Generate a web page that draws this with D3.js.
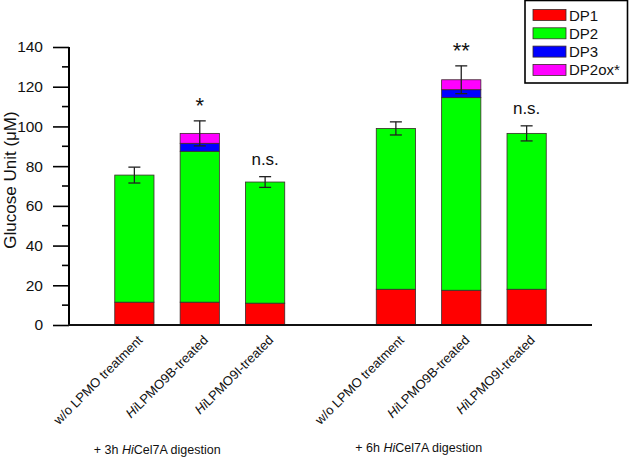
<!DOCTYPE html>
<html>
<head>
<meta charset="utf-8">
<script src="https://cdn.jsdelivr.net/npm/d3@7"></script>
<style>
  body { margin: 0; background: #fff; }
  svg { display: block; font-family: "Liberation Sans", Arial, sans-serif; }
</style>
</head>
<body>
<svg id="chart" width="629" height="458"></svg>
<script>
// slot keys: one empty slot separates the 3h and 6h groups
const slots = ['3h-wo', '3h-9B', '3h-9I', 'gap', '6h-wo', '6h-9B', '6h-9I'];
const bars = ['3h-wo', '3h-9B', '3h-9I', '6h-wo', '6h-9B', '6h-9I'];
const dp1   = [11.5, 11.5, 11.0, 18.0, 17.5, 18.0];
const dp2   = [64.0, 76.0, 61.0, 81.0, 97.0, 78.5];
const dp3   = [0, 4.0, 0, 0, 4.0, 0];
const dp2ox = [0, 5.0, 0, 0, 5.0, 0];
const errs  = [4.0, 6.3, 2.7, 3.3, 7.0, 3.8];
const signif = ['', '*', 'n.s.', '', '**', 'n.s.'];
const barLabels = [
  [['w/o LPMO treatment', false]],
  [['Hi', true], ['LPMO9B-treated', false]],
  [['Hi', true], ['LPMO9I-treated', false]],
  [['w/o LPMO treatment', false]],
  [['Hi', true], ['LPMO9B-treated', false]],
  [['Hi', true], ['LPMO9I-treated', false]]
];
const groupLabels = [
  { first: '3h-wo', parts: [['+ 3h ', false], ['Hi', true], ['Cel7A digestion', false]] },
  { first: '6h-wo', parts: [['+ 6h ', false], ['Hi', true], ['Cel7A digestion', false]] }
];
const seriesNames = ['DP1', 'DP2', 'DP3', 'DP2ox*'];
const seriesColors = ['#ff0000', '#00ff00', '#0000ff', '#ff00ff'];
const yTicks = [0, 20, 40, 60, 80, 100, 120, 140];

const svg = d3.select('#chart');

const x = d3.scaleBand().domain(slots).range([69, 592])
  .paddingInner(0.4).paddingOuter(0.7);
const y = d3.scaleLinear().domain([0, 140]).range([325, 47]);

// stacked data
const rows = bars.map((k, i) => ({ key: k, DP1: dp1[i], DP2: dp2[i], DP3: dp3[i], 'DP2ox*': dp2ox[i] }));
const stacked = d3.stack().keys(seriesNames)(rows);

svg.append('g').selectAll('g').data(stacked).join('g')
  .attr('fill', (d, i) => seriesColors[i])
  .selectAll('rect').data(d => d.filter(s => s[1] - s[0] > 0)).join('rect')
  .attr('x', d => x(d.data.key))
  .attr('width', x.bandwidth())
  .attr('y', d => y(d[1]))
  .attr('height', d => y(d[0]) - y(d[1]))
  .attr('stroke', '#3a2a2a')
  .attr('stroke-width', 0.8);

// error bars
const totals = rows.map((r, i) => dp1[i] + dp2[i] + dp3[i] + dp2ox[i]);
const eb = svg.append('g').attr('stroke', '#222').attr('stroke-width', 1.3);
bars.forEach((k, i) => {
  const cx = x(k) + x.bandwidth() / 2;
  const t = y(totals[i] + errs[i]), b = y(totals[i] - errs[i]);
  eb.append('line').attr('x1', cx).attr('x2', cx).attr('y1', t).attr('y2', b);
  eb.append('line').attr('x1', cx - 6).attr('x2', cx + 6).attr('y1', t).attr('y2', t);
  eb.append('line').attr('x1', cx - 6).attr('x2', cx + 6).attr('y1', b).attr('y2', b);
  if (signif[i]) {
    const star = signif[i] !== 'n.s.';
    svg.append('text')
      .attr('x', cx).attr('y', star ? t - 8 : t - 12)
      .attr('text-anchor', 'middle')
      .attr('font-size', star ? 22 : 17)
      .attr('fill', '#111')
      .text(signif[i]);
  }
});

// y axis
const yAxis = svg.append('g').attr('transform', 'translate(69,0)')
  .call(d3.axisLeft(y).tickValues(yTicks).tickSize(16).tickPadding(10));
yAxis.select('.domain').attr('stroke-width', 2).attr('d', 'M0,325V47');
yAxis.selectAll('.tick line').attr('stroke-width', 1.6);
yAxis.selectAll('.tick text').attr('font-size', 15.5).attr('fill', '#111')
  .attr('font-family', '"Liberation Sans", Arial, sans-serif');
const minor = d3.range(10, 140, 20);
svg.append('g').selectAll('line').data(minor).join('line')
  .attr('x1', 62).attr('x2', 69)
  .attr('y1', d => y(d)).attr('y2', d => y(d))
  .attr('stroke', '#000').attr('stroke-width', 1.6);

// x axis line
svg.append('line').attr('x1', 68).attr('x2', 592).attr('y1', 325).attr('y2', 325)
  .attr('stroke', '#111').attr('stroke-width', 2);

// y title
svg.append('text')
  .attr('transform', 'translate(16,180) rotate(-90)')
  .attr('text-anchor', 'middle')
  .attr('font-size', 17)
  .attr('fill', '#111')
  .text('Glucose Unit (\u03bcM)');

// bar labels, rotated
bars.forEach((k, i) => {
  const cx = x(k) + x.bandwidth() / 2;
  const t = svg.append('text')
    .attr('transform', `translate(${cx + 9},${341}) rotate(-45)`)
    .attr('text-anchor', 'end')
    .attr('font-size', 13)
    .attr('fill', '#111');
  barLabels[i].forEach(([s, it]) => t.append('tspan').attr('font-style', it ? 'italic' : null).text(s));
});

// group labels
groupLabels.forEach((g, i) => {
  const t = svg.append('text')
    .attr('x', x(g.first) - 21)
    .attr('y', i === 0 ? 454 : 452)
    .attr('font-size', 12.5)
    .attr('fill', '#111');
  g.parts.forEach(([s, it]) => t.append('tspan').attr('font-style', it ? 'italic' : null).text(s));
});

// legend
const leg = svg.append('g');
leg.append('rect').attr('x', 525).attr('y', 0.5).attr('width', 102.5).attr('height', 82.5)
  .attr('fill', '#fff').attr('stroke', '#000').attr('stroke-width', 1.6);
seriesNames.forEach((name, i) => {
  const cy = 15 + i * 18.3;
  leg.append('rect').attr('x', 533).attr('y', cy - 5.5).attr('width', 33).attr('height', 11)
    .attr('fill', seriesColors[i]).attr('stroke', '#3a2a2a').attr('stroke-width', 0.8);
  leg.append('text').attr('x', 569).attr('y', cy + 5.5).attr('font-size', 15)
    .attr('fill', '#111').text(name);
});
</script>
</body>
</html>
